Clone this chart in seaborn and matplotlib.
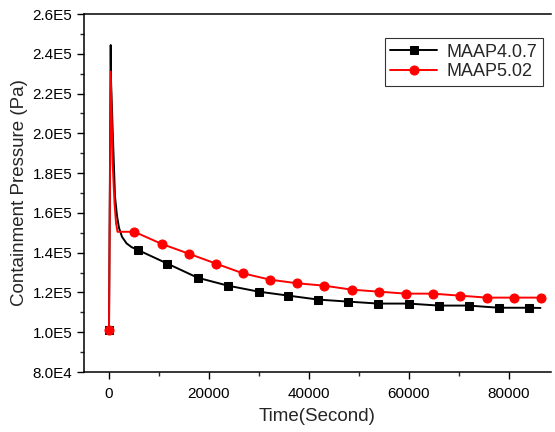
import numpy as np
import pandas as pd
import matplotlib
matplotlib.use("Agg")
import matplotlib.pyplot as plt
import seaborn as sns
from matplotlib.ticker import MultipleLocator, FuncFormatter

# MAAP4.0.7 curve (time in s, pressure in Pa)
black_t = [0, 340, 400, 730, 1200, 1600, 2000, 2600, 3500, 4500, 5733, 11667, 17733,
           23800, 29933, 35867, 41867, 47800, 53867, 59933, 65933, 71933, 78000, 84000, 86300]
black_p = [1.01e5, 2.444e5, 2.27e5, 2.017e5, 1.682e5, 1.585e5, 1.525e5, 1.48e5, 1.447e5,
           1.428e5, 1.414e5, 1.345e5, 1.274e5, 1.234e5, 1.204e5, 1.184e5, 1.164e5, 1.154e5,
           1.144e5, 1.144e5, 1.134e5, 1.134e5, 1.123e5, 1.123e5, 1.122e5]
black_marks = [0] + list(range(10, 24))

# MAAP5.02 curve
red_t = [0, 340, 730, 1100, 1400, 1700, 5067, 10533, 15933, 21400, 26800, 32267,
         37667, 43067, 48533, 53933, 59333, 64733, 70133, 75533, 81000, 86400]
red_p = [1.01e5, 2.31e5, 1.85e5, 1.65e5, 1.55e5, 1.505e5, 1.505e5, 1.444e5, 1.395e5,
         1.345e5, 1.296e5, 1.264e5, 1.246e5, 1.234e5, 1.214e5, 1.204e5, 1.194e5,
         1.194e5, 1.184e5, 1.174e5, 1.174e5, 1.174e5]
red_marks = [0] + list(range(6, 22))

sns.set_style("ticks")
plt.rcParams['font.family'] = ['Liberation Sans', 'DejaVu Sans']

df_black = pd.DataFrame({"t": black_t, "p": black_p})
df_red = pd.DataFrame({"t": red_t, "p": red_p})

fig = plt.figure(figsize=(5.55, 4.32), dpi=100)
ax = fig.add_axes([84 / 555, 60 / 432, 467 / 555, 358 / 432])

sns.lineplot(data=df_black, x="t", y="p", ax=ax, color="black", lw=1.4,
             marker="s", markersize=5.5, markevery=black_marks, mec="black",
             sort=False, estimator=None, label="MAAP4.0.7")
sns.lineplot(data=df_red, x="t", y="p", ax=ax, color="red", lw=1.4,
             marker="o", markersize=6.5, markevery=red_marks, mec="red",
             sort=False, estimator=None, label="MAAP5.02")

ax.set_xlim(-5000, 88400)
ax.set_ylim(8.0e4, 2.6e5)
ax.xaxis.set_major_locator(MultipleLocator(20000))
ax.xaxis.set_minor_locator(MultipleLocator(10000))
ax.yaxis.set_major_locator(MultipleLocator(20000))
ax.yaxis.set_minor_locator(MultipleLocator(10000))


def sci(v, pos):
    e = int(np.floor(np.log10(v)))
    return f"{v / 10 ** e:.1f}E{e}"


ax.yaxis.set_major_formatter(FuncFormatter(sci))
ax.tick_params(which="major", direction="out", length=5, width=1, labelsize=11, colors="black")
ax.tick_params(axis="x", which="major", pad=6)
ax.tick_params(which="minor", direction="out", length=3, width=1)
for s in ["left", "bottom", "top"]:
    ax.spines[s].set_linewidth(1.1)
    ax.spines[s].set_color("black")
ax.spines["right"].set_visible(False)

ax.set_xlabel("Time(Second)", fontsize=13.5, labelpad=5)
ax.set_ylabel("Containment Pressure (Pa)", fontsize=13.5, labelpad=3)

leg = ax.legend(loc="upper right", bbox_to_anchor=(0.982, 0.932), borderaxespad=0,
                fontsize=13, frameon=True, fancybox=False, edgecolor="black",
                handlelength=2.6, handletextpad=0.5, borderpad=0.3, labelspacing=0.15)
leg.get_frame().set_linewidth(0.8)

fig.savefig("out.png", dpi=100)
